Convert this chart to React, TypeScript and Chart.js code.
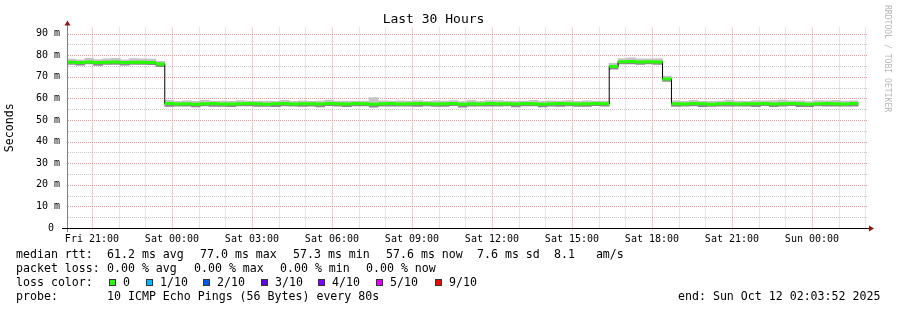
import React, { useEffect, useRef } from 'react';
import { Chart, registerables } from 'chart.js';

Chart.register(...registerables);

// ---------------- data ----------------
const chartTitle = 'Last 30 Hours';
const yAxisTitle = 'Seconds';
const spanHours = 30;
const firstFullHour = 0.9356; // Fri 20:03:52 -> Fri 21:00:00
const stepHours = 1 / 3; // 20 minute consolidation steps

const xTickLabels = ['Fri 21:00', 'Sat 00:00', 'Sat 03:00', 'Sat 06:00', 'Sat 09:00', 'Sat 12:00', 'Sat 15:00', 'Sat 18:00', 'Sat 21:00', 'Sun 00:00'];
const yTickValues = [0, 5, 10, 15, 20, 25, 30, 35, 40, 45, 50, 55, 60, 65, 70, 75, 80, 85, 90];
const yTickLabels = ['0 ', '', '10 m', '', '20 m', '', '30 m', '', '40 m', '', '50 m', '', '60 m', '', '70 m', '', '80 m', '', '90 m'];

// median rtt in ms, one value per 20 minute step
const medianRtt = [
  76.8, 76.6, 76.9, 76.6, 76.7, 76.9, 76.6, 76.7, 76.8, 76.6,
  75.9,
  57.6, 57.4, 57.5, 57.3, 57.5, 57.6, 57.4, 57.4, 57.5, 57.6,
  57.5, 57.3, 57.5, 57.6, 57.4, 57.5, 57.5, 57.4, 57.6, 57.5,
  57.4, 57.6, 57.5, 57.3, 57.5, 57.6, 57.4, 57.5, 57.6, 57.5,
  57.4, 57.5, 57.6, 57.3, 57.5, 57.4, 57.6, 57.5, 57.5, 57.4,
  57.6, 57.5, 57.3, 57.5, 57.6, 57.5, 57.4, 57.5, 57.6, 57.5,
  74.8,
  77.0, 77.1, 76.9, 77.0, 76.9,
  69.0,
  57.5, 57.4, 57.6, 57.5, 57.3, 57.5, 57.6, 57.4, 57.5, 57.5,
  57.6, 57.4, 57.5, 57.6, 57.5, 57.3, 57.5, 57.6, 57.5, 57.4, 57.6,
];
// smoke spread above the median (ms)
const smokeUp = [
  1.4, 1.3, 1.7, 1.4, 1.6, 1.7, 1.3, 1.7, 1.5, 1.6,
  1.3,
  1.5, 1.2, 1.4, 1.3, 1.6, 1.2, 1.4, 1.3, 1.5, 1.2,
  1.3, 1.4, 1.2, 1.5, 1.3, 1.4, 1.2, 1.4, 1.6, 1.3,
  1.4, 1.2, 1.3, 3.1, 1.4, 1.2, 1.5, 1.3, 1.4, 1.2,
  1.5, 1.3, 1.4, 1.2, 1.6, 1.3, 1.4, 1.5, 1.3, 1.4,
  1.2, 1.6, 1.3, 1.4, 1.2, 1.5, 1.3, 1.4, 1.2, 1.3,
  1.4,
  1.5, 1.7, 1.4, 1.3, 1.5,
  1.3,
  1.4, 1.3, 1.5, 1.2, 1.4, 1.3, 1.6, 1.4, 1.2, 1.5,
  1.3, 1.6, 1.7, 1.3, 1.4, 1.2, 1.5, 1.3, 1.6, 1.4, 1.3,
];
// smoke spread below the median (ms)
const smokeDown = [
  1.0, 1.2, 0.9, 1.3, 1.0, 1.1, 1.2, 0.9, 1.1, 1.0,
  1.2,
  1.3, 1.0, 1.1, 1.2, 1.0, 1.3, 1.1, 1.2, 1.0, 1.1,
  1.2, 1.0, 1.3, 1.1, 1.0, 1.2, 1.1, 1.3, 1.0, 1.1,
  1.2, 1.1, 1.0, 1.3, 1.1, 1.2, 1.0, 1.1, 1.3, 1.0,
  1.1, 1.2, 1.0, 1.3, 1.1, 1.0, 1.2, 1.1, 1.0, 1.3,
  1.1, 1.0, 1.2, 1.1, 1.3, 1.0, 1.1, 1.2, 1.0, 1.1,
  1.2,
  1.0, 1.1, 1.2, 1.0, 1.1,
  1.1,
  1.2, 1.0, 1.1, 1.3, 1.0, 1.1, 1.2, 1.0, 1.1, 1.3,
  1.0, 1.2, 1.1, 1.0, 1.3, 1.1, 1.0, 1.2, 1.1, 1.0, 1.2,
];

const rttLabel = 'median rtt:';
const rttStats = ['61.2 ms avg', '77.0 ms max', '57.3 ms min', '57.6 ms now', '7.6 ms sd', '8.1   am/s'];
const lossLabel = 'packet loss:';
const lossStats = ['0.00 % avg', '0.00 % max', '0.00 % min', '0.00 % now'];
const lossColorLabel = 'loss color:';
const lossColorNames = ['0', '1/10', '2/10', '3/10', '4/10', '5/10', '9/10'];
const lossColors = ['#26ff00', '#00b8ff', '#0059ff', '#5e00ff', '#7e00ff', '#dd00ff', '#ff0000'];
const probeLabel = 'probe:';
const probeText = '10 ICMP Echo Pings (56 Bytes) every 80s';
const endText = 'end: Sun Oct 12 02:03:52 2025';
const watermark = 'RRDTOOL / TOBI OETIKER';

// ---------------- styling ----------------
const FONT = "'DejaVu Sans Mono', 'Liberation Mono', monospace";
const MAJOR = '#f09a9a';
const MINOR = '#c8c8c8';
const W = 897;
const H = 310;

// dotted RRDtool-style grid, drawn from the chart's own scales
const gridPlugin = {
  id: 'rrdGrid',
  beforeDatasetsDraw(chart: any) {
    const { ctx, chartArea, scales } = chart;
    const { left, right, top, bottom } = chartArea;
    ctx.save();
    ctx.lineWidth = 1;
    ctx.setLineDash([1, 1]);
    const drawPass = (major: boolean) => {
      ctx.strokeStyle = major ? MAJOR : MINOR;
      scales.y.ticks.forEach((t: any) => {
        if (t.value === 0) return;
        if ((t.value % 10 === 0) !== major) return;
        const py = Math.round(scales.y.getPixelForValue(t.value)) + 0.5;
        ctx.beginPath();
        ctx.moveTo(left + 1, py);
        ctx.lineTo(right + 1, py);
        ctx.stroke();
      });
      scales.x.ticks.forEach((t: any, i: number) => {
        if ((i % 3 === 0) !== major) return;
        const px = Math.round(scales.x.getPixelForValue(t.value)) + 0.5;
        ctx.beginPath();
        ctx.moveTo(px, top);
        ctx.lineTo(px, bottom + (major ? 3 : 0));
        ctx.stroke();
      });
    };
    drawPass(false);
    drawPass(true);
    ctx.restore();
  },
};

const overlayPlugin = {
  id: 'rrdOverlay',
  afterDraw(chart: any) {
    const { ctx, chartArea } = chart;
    const { left, right, top, bottom } = chartArea;
    ctx.save();
    // y axis
    ctx.strokeStyle = '#808080';
    ctx.lineWidth = 1;
    ctx.beginPath();
    ctx.moveTo(left + 0.5, bottom + 4);
    ctx.lineTo(left + 0.5, top - 3);
    ctx.stroke();
    // x axis
    ctx.strokeStyle = '#000';
    ctx.beginPath();
    ctx.moveTo(left - 5, bottom + 0.5);
    ctx.lineTo(right + 3, bottom + 0.5);
    ctx.stroke();
    // arrows
    ctx.fillStyle = '#8b1a1a';
    ctx.beginPath();
    ctx.moveTo(left + 0.5, top - 7);
    ctx.lineTo(left - 2.5, top - 2);
    ctx.lineTo(left + 3.5, top - 2);
    ctx.closePath();
    ctx.fill();
    ctx.beginPath();
    ctx.moveTo(right + 7, bottom + 0.5);
    ctx.lineTo(right + 2, bottom - 2.5);
    ctx.lineTo(right + 2, bottom + 3.5);
    ctx.closePath();
    ctx.fill();

    // legend text
    ctx.fillStyle = '#000';
    ctx.font = `11.6px ${FONT}`;
    ctx.textBaseline = 'alphabetic';
    ctx.textAlign = 'left';
    const b1 = 258, b2 = 272, b3 = 286, b4 = 300;
    ctx.fillText(rttLabel, 16, b1);
    const rttX = [107, 200, 293, 386, 477, 554];
    rttStats.forEach((t, i) => ctx.fillText(t, rttX[i], b1));
    ctx.fillText(lossLabel, 16, b2);
    const lossX = [107, 194, 280, 366];
    lossStats.forEach((t, i) => ctx.fillText(t, lossX[i], b2));
    ctx.fillText(lossColorLabel, 16, b3);
    const sqX = [109, 146, 203, 261, 318, 376, 435];
    lossColorNames.forEach((t, i) => {
      ctx.fillStyle = lossColors[i];
      ctx.fillRect(sqX[i], b3 - 7, 7, 7);
      ctx.strokeStyle = '#333';
      ctx.strokeRect(sqX[i] + 0.5, b3 - 6.5, 6, 6);
      ctx.fillStyle = '#000';
      ctx.fillText(t, sqX[i] + 14, b3);
    });
    ctx.fillText(probeLabel, 16, b4);
    ctx.fillText(probeText, 107, b4);
    ctx.fillText(endText, 678, b4);

    // watermark
    ctx.fillStyle = '#b8b8b8';
    ctx.font = `8.1px ${FONT}`;
    ctx.translate(887, 5);
    ctx.rotate(Math.PI / 2);
    ctx.textBaseline = 'middle';
    ctx.fillText(watermark, 0, 0);
    ctx.restore();
  },
};

export default function App() {
  const ref = useRef<HTMLCanvasElement | null>(null);

  useEffect(() => {
    if (!ref.current) return;
    const hourTicks = Array.from({ length: spanHours }, (_, k) => firstFullHour + k);

    const upper = medianRtt.map((m, i) => ({ x: (i + 0.5) * stepHours, y: [m, m + smokeUp[i]] }));
    const lower = medianRtt.map((m, i) => ({ x: (i + 0.5) * stepHours, y: [m - smokeDown[i], m] }));
    const black: any[] = medianRtt.map((m, i) => ({ x: i * stepHours, y: m }));
    black.push({ x: medianRtt.length * stepHours, y: medianRtt[medianRtt.length - 1] });
    const green: any[] = [];
    medianRtt.forEach((m, i) => {
      green.push({ x: i * stepHours, y: m });
      green.push({ x: (i + 1) * stepHours, y: m });
      green.push({ x: (i + 1) * stepHours, y: null });
    });

    const chart = new Chart(ref.current, {
      type: 'bar',
      data: {
        datasets: [
          {
            type: 'bar', label: 'smoke upper', data: upper as any, backgroundColor: '#c4c4c4',
            borderWidth: 0, grouped: false, categoryPercentage: 1, barPercentage: 1, order: 4,
          } as any,
          {
            type: 'bar', label: 'smoke lower', data: lower as any, backgroundColor: '#8a8a8a',
            borderWidth: 0, grouped: false, categoryPercentage: 1, barPercentage: 1, order: 3,
          } as any,
          {
            type: 'line', label: 'median', data: black, stepped: true, borderColor: '#000',
            borderWidth: 1, pointRadius: 0, fill: false, order: 2,
          } as any,
          {
            type: 'line', label: 'loss 0', data: green, borderColor: '#26ff00', borderWidth: 3,
            pointRadius: 0, spanGaps: false, borderCapStyle: 'butt', fill: false, order: 1,
          } as any,
        ],
      },
      options: {
        responsive: false,
        animation: false,
        events: [],
        layout: { padding: { top: 0, left: 0, right: 30, bottom: 0 } },
        plugins: {
          legend: { display: false },
          tooltip: { enabled: false },
          title: {
            display: true, text: chartTitle, color: '#000',
            font: { family: FONT, size: 13, weight: 'normal', lineHeight: 1.2 },
            padding: { top: 12, bottom: 0 },
          },
        },
        scales: {
          x: {
            type: 'linear', min: 0, max: spanHours, offset: false,
            afterBuildTicks: (s: any) => { s.ticks = hourTicks.map((v) => ({ value: v })); },
            afterFit: (s: any) => { s.height = 82; },
            grid: { display: false, offset: false, drawTicks: false },
            border: { display: false },
            ticks: {
              autoSkip: false, maxRotation: 0, minRotation: 0, padding: 5, color: '#000',
              font: { family: FONT, size: 10 },
              callback: (_v: any, i: number) => (i % 3 === 0 ? xTickLabels[i / 3] : ''),
            },
          },
          y: {
            type: 'linear', min: 0, max: 92.8,
            afterBuildTicks: (s: any) => { s.ticks = yTickValues.map((v) => ({ value: v })); },
            afterFit: (s: any) => { s.width = 67; },
            grid: { display: false, drawTicks: false },
            border: { display: false },
            ticks: {
              autoSkip: false, padding: 7, color: '#000',
              font: { family: FONT, size: 10 },
              callback: (_v: any, i: number) => yTickLabels[i],
            },
            title: {
              display: true, text: yAxisTitle, color: '#000',
              font: { family: FONT, size: 11.6, lineHeight: 1.2 },
              padding: { top: 3.5, bottom: 0 },
            },
          },
        },
      } as any,
      plugins: [gridPlugin, overlayPlugin],
    });
    return () => chart.destroy();
  }, []);

  return (
    <div style={{ position: 'fixed', left: 0, top: 0, width: W, height: H, background: '#fff' }}>
      <canvas ref={ref} width={W} height={H} style={{ width: W, height: H, display: 'block' }} />
    </div>
  );
}
